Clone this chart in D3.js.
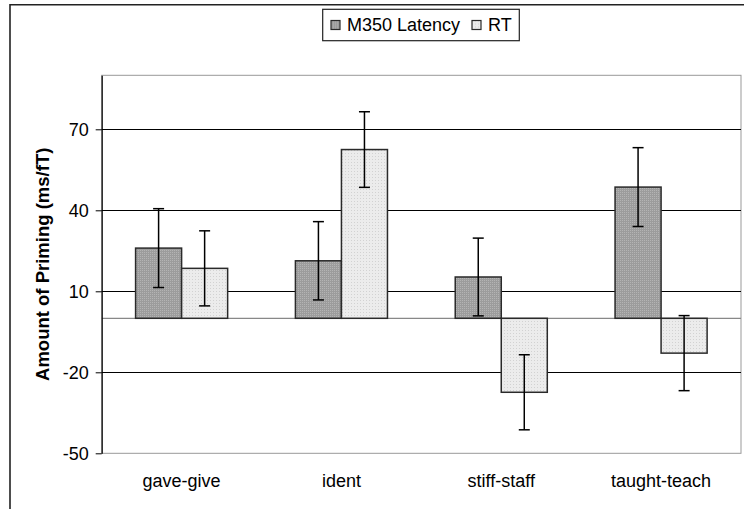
<!DOCTYPE html>
<html lang="en">
<head>
    <meta charset="UTF-8">
    <title>Amount of Priming</title>
    <script src="https://cdn.jsdelivr.net/npm/d3@7"></script>
    <style>
        body { margin: 0; background: #fff; }
        svg text { font-family: Arial, "Liberation Sans", Helvetica, sans-serif; fill: #000; }
    </style>
</head>
<body>
<script>
    // values
    var categories = ["gave-give", "ident", "stiff-staff", "taught-teach"];
    var seriesNames = ["M350 Latency", "RT"];
    var m350 = [26, 21.3, 15.3, 48.6];
    var m350Err = [14.6, 14.5, 14.4, 14.6];
    var rt = [18.5, 62.5, -27.4, -12.9];
    var rtErr = [13.9, 14, 13.9, 13.9];
    var yTicks = [-50, -20, 10, 40, 70];

    var width = 744, height = 509;
    var plot = {left: 101.7, right: 741, top: 75.3, bottom: 453.3};

    var svg = d3.select("body").append("svg")
        .attr("width", width)
        .attr("height", height);

    // textures like the excel fills
    var defs = svg.append("defs");
    var pDark = defs.append("pattern").attr("id", "darkFill")
        .attr("patternUnits", "userSpaceOnUse").attr("width", 2).attr("height", 2);
    pDark.append("rect").attr("width", 2).attr("height", 2).attr("fill", "#9c9c9c");
    pDark.append("rect").attr("width", 1).attr("height", 1).attr("fill", "#b4b4b4");
    var pLight = defs.append("pattern").attr("id", "lightFill")
        .attr("patternUnits", "userSpaceOnUse").attr("width", 3).attr("height", 3);
    pLight.append("rect").attr("width", 3).attr("height", 3).attr("fill", "#ececec");
    pLight.append("rect").attr("width", 1).attr("height", 1).attr("fill", "#d2d2d2");

    var fills = ["url(#darkFill)", "url(#lightFill)"];

    // chart area border (runs off the right and bottom)
    svg.append("path")
        .attr("d", "M10," + (height + 5) + "V4.7H" + (width + 5))
        .attr("fill", "none")
        .attr("stroke", "#222")
        .attr("stroke-width", 1.6);

    var x = d3.scaleBand()
        .domain(categories)
        .range([plot.left, plot.right])
        .paddingInner(0.424)
        .paddingOuter(0.212);

    var xs = d3.scaleBand()
        .domain(seriesNames)
        .range([0, x.bandwidth()]);

    var y = d3.scaleLinear()
        .domain([-50, 90])
        .range([plot.bottom, plot.top]);

    // plot area border (grey)
    svg.append("rect")
        .attr("x", plot.left)
        .attr("y", y(90))
        .attr("width", plot.right - plot.left)
        .attr("height", y(-50) - y(90))
        .attr("fill", "none")
        .attr("stroke", "#999")
        .attr("stroke-width", 1);

    // gridlines
    svg.append("g")
        .selectAll("line")
        .data(yTicks.filter(d => d !== -50))
        .enter()
        .append("line")
        .attr("x1", plot.left)
        .attr("x2", plot.right)
        .attr("y1", d => Math.round(y(d)) + 0.5)
        .attr("y2", d => Math.round(y(d)) + 0.5)
        .attr("stroke", "#000")
        .attr("stroke-width", 1);

    // zero line
    svg.append("line")
        .attr("x1", plot.left)
        .attr("x2", plot.right)
        .attr("y1", y(0))
        .attr("y2", y(0))
        .attr("stroke", "#888")
        .attr("stroke-width", 1.2);

    // y axis
    var yAxis = d3.axisLeft(y)
        .tickValues(yTicks)
        .tickFormat(d => String(d))   // plain hyphen like the original
        .tickSize(6)
        .tickSizeOuter(0)
        .tickPadding(7);

    var yG = svg.append("g")
        .attr("transform", "translate(" + plot.left + ",0)")
        .call(yAxis);
    yG.select(".domain").attr("stroke", "#000").attr("stroke-width", 1.2);
    yG.selectAll(".tick line").attr("stroke", "#000");
    yG.selectAll(".tick text")
        .attr("font-size", 18)
        .attr("font-family", "Arial, 'Liberation Sans', sans-serif")
        .attr("fill", "#000");

    svg.append("text")
        .attr("transform", "translate(49," + ((plot.top + plot.bottom) / 2) + ") rotate(-90)")
        .attr("text-anchor", "middle")
        .attr("font-size", 18.5)
        .attr("font-weight", "bold")
        .text("Amount of Priming (ms/fT)");

    // category labels
    svg.append("g")
        .selectAll("text")
        .data(categories)
        .enter()
        .append("text")
        .attr("x", d => x(d) + x.bandwidth() / 2)
        .attr("y", 487)
        .attr("text-anchor", "middle")
        .attr("font-size", 18)
        .text(d => d);

    // bars
    var rows = [];
    categories.forEach(function(c, i) {
        rows.push({cat: c, s: 0, v: m350[i], e: m350Err[i]});
        rows.push({cat: c, s: 1, v: rt[i], e: rtErr[i]});
    });

    svg.append("g")
        .selectAll("rect")
        .data(rows)
        .enter()
        .append("rect")
        .attr("x", d => x(d.cat) + xs(seriesNames[d.s]))
        .attr("y", d => y(Math.max(0, d.v)))
        .attr("width", xs.bandwidth())
        .attr("height", d => Math.abs(y(d.v) - y(0)))
        .attr("fill", d => fills[d.s])
        .attr("stroke", "#2a2a2a")
        .attr("stroke-width", 1.5);

    // error bars
    var err = svg.append("g")
        .selectAll("g")
        .data(rows)
        .enter()
        .append("g")
        .attr("transform", d => "translate(" + (x(d.cat) + xs(seriesNames[d.s]) + xs.bandwidth() / 2) + ",0)")
        .attr("stroke", "#000")
        .attr("stroke-width", 1.5);

    err.append("line")
        .attr("y1", d => y(d.v + d.e))
        .attr("y2", d => y(d.v - d.e));
    err.append("line")
        .attr("x1", -5.5).attr("x2", 5.5)
        .attr("y1", d => y(d.v + d.e))
        .attr("y2", d => y(d.v + d.e));
    err.append("line")
        .attr("x1", -5.5).attr("x2", 5.5)
        .attr("y1", d => y(d.v - d.e))
        .attr("y2", d => y(d.v - d.e));

    // legend
    var legend = svg.append("g");
    legend.append("rect")
        .attr("x", 322.7)
        .attr("y", 9.3)
        .attr("width", 196.6)
        .attr("height", 31.4)
        .attr("fill", "#fff")
        .attr("stroke", "#222")
        .attr("stroke-width", 1.2);

    var legendX = [331, 472];
    var items = legend.selectAll("g.item")
        .data(seriesNames)
        .enter()
        .append("g")
        .attr("class", "item")
        .attr("transform", (d, i) => "translate(" + legendX[i] + ",20.5)");
    items.append("rect")
        .attr("width", 9)
        .attr("height", 9)
        .attr("fill", (d, i) => fills[i])
        .attr("stroke", "#2a2a2a")
        .attr("stroke-width", 1.2);
    items.append("text")
        .attr("x", 16)
        .attr("y", 10.5)
        .attr("font-size", 18)
        .text(d => d);
</script>
</body>
</html>
